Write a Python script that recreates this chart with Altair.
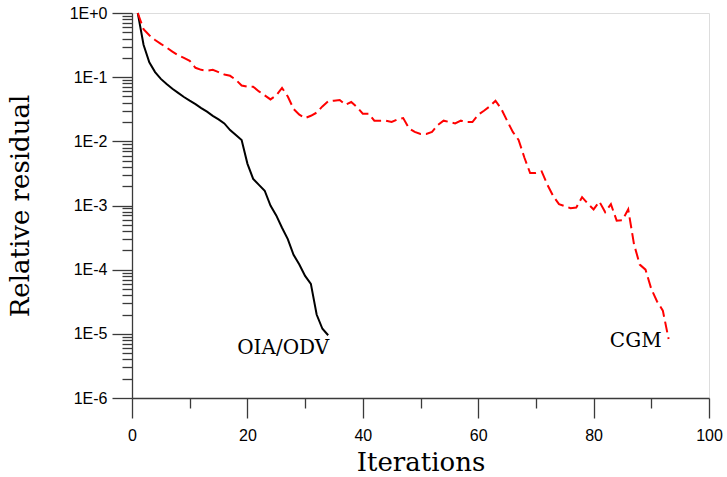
import altair as alt
import pandas as pd

# ---- data ----
oia_iter = list(range(1, 35))
oia_res = [1.0, 0.32, 0.17, 0.12, 0.094, 0.078, 0.066, 0.057, 0.049, 0.043,
           0.038, 0.033, 0.029, 0.025, 0.022, 0.019, 0.015, 0.0125, 0.0105, 0.0045,
           0.0026, 0.0021, 0.0017, 0.0010, 0.0007, 0.00045, 0.0003, 0.00017, 0.00012, 0.00008,
           0.00006, 0.00002, 0.000012, 0.0000095]

cgm_iter = list(range(1, 94))
cgm_res = [1.0, 0.56, 0.45, 0.38, 0.33, 0.29, 0.25, 0.22, 0.20, 0.18,
           0.14, 0.13, 0.126, 0.13, 0.12, 0.11, 0.105, 0.091, 0.074, 0.071,
           0.071, 0.060, 0.052, 0.045, 0.052, 0.068, 0.050, 0.032, 0.026, 0.023,
           0.025, 0.028, 0.035, 0.042, 0.043, 0.044, 0.037, 0.041, 0.034, 0.027,
           0.027, 0.021, 0.021, 0.021, 0.020, 0.022, 0.023, 0.016, 0.014, 0.013,
           0.013, 0.014, 0.018, 0.021, 0.020, 0.019, 0.021, 0.020, 0.020, 0.026,
           0.030, 0.035, 0.043, 0.032, 0.021, 0.014, 0.0105, 0.0056, 0.0032, 0.0032,
           0.0034, 0.0021, 0.0014, 0.00105, 0.00098, 0.00091, 0.00093, 0.00135, 0.00107, 0.00087,
           0.00115, 0.00079, 0.00105, 0.00058, 0.00059, 0.00087, 0.00025, 0.00012, 0.0001, 0.00005,
           0.000032, 0.000023, 0.0000083]

label_text = ["OIA/ODV", "CGM"]
label_x = [26.2, 87.3]
label_y = [0.0000060, 0.0000077]

x_major = [0, 20, 40, 60, 80, 100]
x_minor = [10, 30, 50, 70, 90]
y_major = [1e-6, 1e-5, 1e-4, 1e-3, 1e-2, 1e-1, 1.0]
y_minor = [m * 10.0 ** d for d in range(-6, 0) for m in range(2, 10)]

df_oia = pd.DataFrame({"it": oia_iter, "res": oia_res})
df_cgm = pd.DataFrame({"it": cgm_iter, "res": cgm_res})
df_lab = pd.DataFrame({"text": label_text, "it": label_x, "res": label_y})

AX = "#3a3a3a"
x_scale = alt.Scale(domain=[0, 100], nice=False, zero=False)
y_scale = alt.Scale(type="log", domain=[1e-6, 1], nice=False)

x_axis_major = alt.Axis(values=x_major, tickSize=20, labelFont="Liberation Sans",
                        labelFontSize=16, labelColor="black", labelPadding=9,
                        domainColor=AX, tickColor=AX, domainWidth=1.3, tickWidth=1.3,
                        grid=False, title="Iterations", titleFont="DejaVu Serif",
                        titleFontSize=26, titleFontWeight="normal", titleColor="black",
                        titlePadding=6, orient="bottom", labelFlush=False)
x_axis_minor = alt.Axis(values=x_minor, tickSize=10, labels=False, domain=False,
                        tickColor=AX, tickWidth=1.3, grid=False, title=None,
                        orient="bottom")
y_expr = "'1E' + (datum.value >= 0.999 ? '+0' : '' + round(log(datum.value) / LN10))"
y_axis_major = alt.Axis(values=y_major, tickSize=20, labelFont="Liberation Sans",
                        labelFontSize=16, labelColor="black", labelPadding=5,
                        labelExpr=y_expr, domainColor=AX, tickColor=AX,
                        domainWidth=1.3, tickWidth=1.3, grid=False,
                        title="Relative residual", titleFont="DejaVu Serif",
                        titleFontSize=26, titleFontWeight="normal", titleColor="black",
                        titlePadding=36, orient="left", labelFlush=False)
y_axis_minor = alt.Axis(values=y_minor, tickSize=10, labels=False, domain=False,
                        tickColor=AX, tickWidth=1.3, grid=False, title=None,
                        orient="left")

black = alt.Chart(df_oia).mark_line(color="black", strokeWidth=2).encode(
    x=alt.X("it:Q", scale=x_scale, axis=x_axis_major),
    y=alt.Y("res:Q", scale=y_scale, axis=y_axis_major),
)
red = alt.Chart(df_cgm).mark_line(color="#ff0000", strokeWidth=2,
                                  strokeDash=[11, 5]).encode(
    x=alt.X("it:Q", scale=x_scale, axis=x_axis_minor),
    y=alt.Y("res:Q", scale=y_scale, axis=y_axis_minor),
)
labels = alt.Chart(df_lab).mark_text(font="DejaVu Serif", fontSize=20,
                                     color="black", baseline="middle",
                                     align="center").encode(
    x=alt.X("it:Q", scale=x_scale, axis=None),
    y=alt.Y("res:Q", scale=y_scale, axis=None),
    text="text:N",
)

chart = alt.layer(black, red, labels).resolve_axis(
    x="independent", y="independent"
).properties(
    width=577, height=385,
    autosize=alt.AutoSizeParams(type="none"),
    padding={"left": 132, "top": 13, "right": 18, "bottom": 79},
).configure_view(stroke=None).configure(background="white")

chart.save("out.html", embed_options={"renderer": "svg", "actions": False})
